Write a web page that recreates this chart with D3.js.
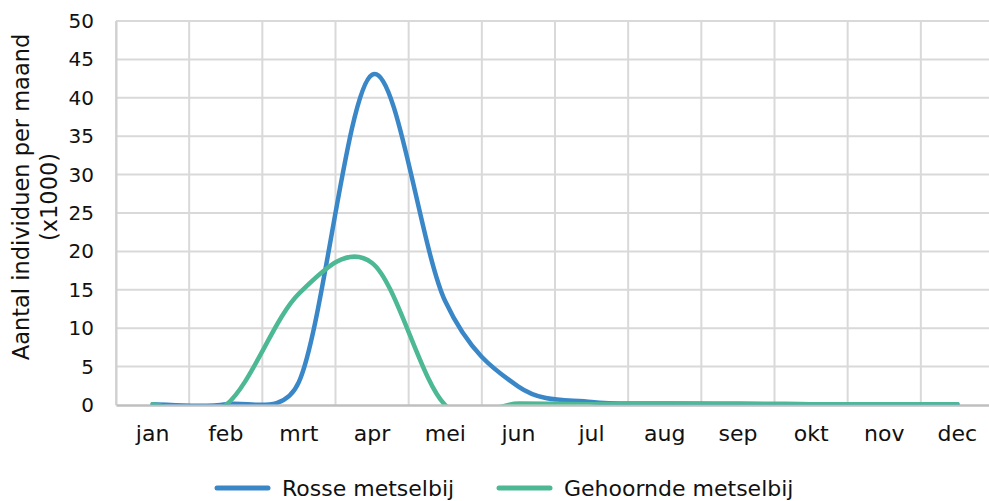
<!DOCTYPE html>
<html>
<head>
<meta charset="utf-8">
<script src="https://cdn.jsdelivr.net/npm/d3@7"></script>
<style>
  html, body { margin: 0; padding: 0; background: #fff; }
  svg { display: block; font-family: "DejaVu Sans", sans-serif; }
</style>
</head>
<body>
<svg id="chart" width="989" height="501"></svg>
<script>
// Monthly counts of two mason bee species (x1000 individuals)
const months = ["jan", "feb", "mrt", "apr", "mei", "jun", "jul", "aug", "sep", "okt", "nov", "dec"];
const rosse = [0.1, 0.1, 3, 43, 13.5, 2.4, 0.4, 0.2, 0.15, 0.1, 0.1, 0.1];
const gehoornde = [0.1, 0, 14.5, 18.5, 0, 0.2, 0.1, 0.2, 0.15, 0.1, 0.1, 0.1];
const yTicks = [0, 5, 10, 15, 20, 25, 30, 35, 40, 45, 50];
const seriesNames = ["Rosse metselbij", "Gehoornde metselbij"];
const colors = ["#3a87c8", "#4db894"];

const svg = d3.select("#chart");
const plot = { left: 116, right: 994, top: 21, bottom: 405 };

const x = d3.scaleBand().domain(months).range([plot.left, plot.right]).padding(0);
const y = d3.scaleLinear().domain([0, 50]).range([plot.bottom, plot.top]);
const cx = m => x(m) + x.bandwidth() / 2;

// Smoothed spreadsheet-style line: cubic Bezier segments whose handles follow
// the neighbouring points (1/6 of the span), capped at half the segment chord.
function curveSmooth(context) {
  let pts;
  return {
    areaStart() {}, areaEnd() {},
    lineStart() { pts = []; },
    point(px, py) { pts.push([+px, +py]); },
    lineEnd() {
      const n = pts.length;
      if (!n) return;
      context.moveTo(pts[0][0], pts[0][1]);
      const tan = i => {
        const a = pts[Math.max(0, i - 1)], b = pts[Math.min(n - 1, i + 1)];
        return [(b[0] - a[0]) / 6, (b[1] - a[1]) / 6];
      };
      for (let i = 0; i < n - 1; i++) {
        const p1 = pts[i], p2 = pts[i + 1];
        const chord = Math.hypot(p2[0] - p1[0], p2[1] - p1[1]);
        const cap = (t) => {
          const len = Math.hypot(t[0], t[1]);
          const k = len > chord * 0.5 ? (chord * 0.5) / len : 1;
          return [t[0] * k, t[1] * k];
        };
        const t1 = cap(tan(i)), t2 = cap(tan(i + 1));
        context.bezierCurveTo(p1[0] + t1[0], p1[1] + t1[1],
                              p2[0] - t2[0], p2[1] - t2[1],
                              p2[0], p2[1]);
      }
    }
  };
}

// gridlines
const grid = svg.append("g").attr("stroke", "#d9d9d9").attr("stroke-width", 2);
yTicks.filter(t => t > 0).forEach(t => {
  grid.append("line").attr("x1", plot.left).attr("x2", plot.right)
    .attr("y1", y(t)).attr("y2", y(t));
});
months.forEach(m => {
  grid.append("line").attr("x1", x(m)).attr("x2", x(m))
    .attr("y1", plot.top).attr("y2", plot.bottom);
});
grid.append("line").attr("x1", plot.right).attr("x2", plot.right)
  .attr("y1", plot.top).attr("y2", plot.bottom);

// axes
const yAxis = svg.append("g")
  .attr("transform", `translate(${plot.left},0)`)
  .call(d3.axisLeft(y).tickValues(yTicks).tickSize(0).tickPadding(22));
yAxis.select(".domain").attr("stroke", "#d0d0d0").attr("stroke-width", 2);
yAxis.selectAll("text").attr("font-size", 20).attr("fill", "#111")
  .attr("font-family", "DejaVu Sans");

const xAxis = svg.append("g")
  .attr("transform", `translate(0,${plot.bottom})`)
  .call(d3.axisBottom(x).tickSize(0).tickPadding(20));
xAxis.select(".domain").attr("stroke", "#bfbfbf").attr("stroke-width", 2.5);
xAxis.selectAll("text").attr("font-size", 22).attr("fill", "#111")
  .attr("font-family", "DejaVu Sans");

// clip lines to the plot area
svg.append("clipPath").attr("id", "plotclip")
  .append("rect").attr("x", plot.left).attr("y", 0)
  .attr("width", plot.right - plot.left).attr("height", plot.bottom - 0.5);

const line = d3.line()
  .x((d, i) => cx(months[i]))
  .y(d => y(d))
  .curve(curveSmooth);

const lines = svg.append("g").attr("clip-path", "url(#plotclip)");
[rosse, gehoornde].forEach((s, k) => {
  lines.append("path").datum(s)
    .attr("d", line)
    .attr("fill", "none")
    .attr("stroke", colors[k])
    .attr("stroke-width", 4.5)
    .attr("stroke-linejoin", "round")
    .attr("stroke-linecap", "round");
});

// y-axis title
const title = svg.append("text")
  .attr("transform", "translate(0,197) rotate(-90)")
  .attr("text-anchor", "middle")
  .attr("font-size", 22.5)
  .attr("fill", "#111");
title.append("tspan").attr("x", 0).attr("y", 29).text("Aantal individuen per maand");
title.append("tspan").attr("x", 0).attr("y", 57).text("(x1000)");

// legend
const legendItems = [
  { name: seriesNames[0], color: colors[0], x: 217 },
  { name: seriesNames[1], color: colors[1], x: 499 }
];
const legend = svg.append("g");
legendItems.forEach(it => {
  legend.append("line")
    .attr("x1", it.x).attr("x2", it.x + 51)
    .attr("y1", 488).attr("y2", 488)
    .attr("stroke", it.color).attr("stroke-width", 5)
    .attr("stroke-linecap", "round");
  legend.append("text")
    .attr("x", it.x + 65).attr("y", 496)
    .attr("font-size", 22).attr("fill", "#111")
    .text(it.name);
});
</script>
</body>
</html>
